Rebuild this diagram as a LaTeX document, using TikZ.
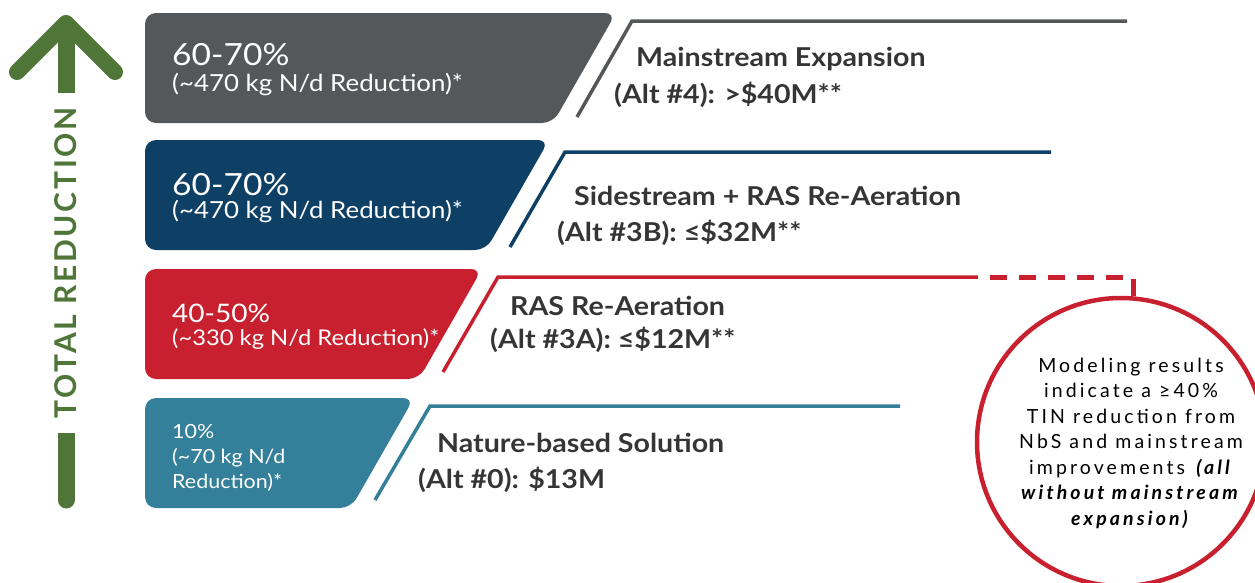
\documentclass[tikz,border=0pt]{standalone}
\usepackage{fontspec}
\setmainfont[FakeStretch=1.1]{Lato}
\newfontfamily\spacedfont[LetterSpace=16]{Lato}
\newfontfamily\axisfont[LetterSpace=9]{Lato}
\definecolor{boxgray}{HTML}{55585B}
\definecolor{boxblue}{HTML}{0E4066}
\definecolor{boxred}{HTML}{C8202F}
\definecolor{boxteal}{HTML}{347F99}
\definecolor{axisgreen}{HTML}{4F7638}
\definecolor{titlegray}{HTML}{353535}
\tikzset{
  band/.style={rounded corners=11pt},
  leader/.style={line width=3.5pt},
  pct/.style={anchor=base west, inner sep=0pt, text=white, font=\fontsize{30.5}{32}\selectfont},
  pctsmall/.style={anchor=base west, inner sep=0pt, text=white, font=\fontsize{25.5}{27}\selectfont},
  sub/.style={anchor=base west, inner sep=0pt, text=white, font=\fontsize{23.5}{25}\selectfont},
  subsmall/.style={anchor=base west, inner sep=0pt, text=white, font=\fontsize{21.6}{23}\selectfont},
  subtiny/.style={anchor=base west, inner sep=0pt, text=white, font=\fontsize{19.5}{21}\selectfont},
  title/.style={anchor=base west, inner sep=0pt, text=titlegray, font=\bfseries\fontsize{26}{28}\selectfont},
}
\begin{document}
\begin{tikzpicture}[x=1pt,y=-1pt]
\useasboundingbox (0,0) rectangle (1255,582);

% vertical axis arrow
\coordinate (axbot) at (66,500);
\coordinate (axtop) at (66,24);
\draw[axisgreen, line width=17pt, line cap=round] (axbot) -- (axtop);
\draw[axisgreen, line width=16pt, line cap=round, line join=round]
  (17,72) -- (66,23) -- (115,72);
\node[rotate=90, fill=white, text=axisgreen, minimum width=340pt, minimum height=28pt,
      inner sep=0pt, font=\axisfont\bfseries\fontsize{30}{32}\selectfont]
  (axis) at (66,263) {TOTAL REDUCTION};

% band 1: mainstream expansion
\fill[boxgray, band] (145,13) -- (616,13) -- (553,123) -- (145,123) -- cycle;
\coordinate (l1a) at (577,117); \coordinate (l1b) at (632,21); \coordinate (l1c) at (1127,21);
\draw[boxgray, leader] (l1a) -- (l1b) -- (l1c);
\node[pct] (p1) at (172,65) {60-70\%};
\node[sub] (s1) at (172,91) {(\textasciitilde470 kg N/d Reduction)*};
\node[title] (t1a) at (636,66) {Mainstream Expansion};
\node[title] (t1b) at (614,103) {(Alt \#4): >\$40M**};

% band 2: sidestream + RAS re-aeration
\fill[boxblue, band] (145,140) -- (549,140) -- (486,250) -- (145,250) -- cycle;
\coordinate (l2a) at (510,247); \coordinate (l2b) at (565,152); \coordinate (l2c) at (1051,152);
\draw[boxblue, leader] (l2a) -- (l2b) -- (l2c);
\node[pct] (p2) at (172,195) {60-70\%};
\node[sub] (s2) at (172,218) {(\textasciitilde470 kg N/d Reduction)*};
\node[title] (t2a) at (574,205) {Sidestream + RAS Re-Aeration};
\node[title] (t2b) at (557,241) {(Alt \#3B): ≤\$32M**};

% band 3: RAS re-aeration
\fill[boxred, band] (145,269) -- (482,269) -- (419,379) -- (145,379) -- cycle;
\coordinate (l3a) at (443,372); \coordinate (l3b) at (498,277); \coordinate (l3c) at (978,277);
\coordinate (l3d) at (990,277); \coordinate (l3e) at (1133,277);
\draw[boxred, leader] (l3a) -- (l3b) -- (l3c);
\node[pctsmall] (p3) at (172,322) {40-50\%};
\node[subsmall] (s3) at (172,345) {(\textasciitilde330 kg N/d Reduction)*};
\node[title] (t3a) at (510,315) {RAS Re-Aeration};
\node[title] (t3b) at (490,348) {(Alt \#3A): ≤\$12M**};

% band 4: nature-based solution
\fill[boxteal, band] (145,398) -- (414,398) -- (351,508) -- (145,508) -- cycle;
\coordinate (l4a) at (375,500); \coordinate (l4b) at (430,406); \coordinate (l4c) at (900,406);
\draw[boxteal, leader] (l4a) -- (l4b) -- (l4c);
\node[subtiny] (p4) at (172,438) {10\%};
\node[subtiny] (s4a) at (172,463) {(\textasciitilde70 kg N/d};
\node[subtiny] (s4b) at (172,488) {Reduction)*};
\node[title] (t4a) at (437,452) {Nature-based Solution};
\node[title] (t4b) at (418,488) {(Alt \#0): \$13M};

% modeling note
\node[circle, draw=boxred, line width=4.5pt, minimum size=288pt, inner sep=0pt] (note) at (1121,442) {};
\draw[boxred, line width=5pt, dash pattern=on 17pt off 12pt] (l3d) -- (l3e) -- (l3e |- note.north);
\node[align=center, inner sep=0pt, text=black, font=\spacedfont\fontsize{19.5}{25.5}\selectfont]
  (notetext) at (1131,443)
  {Modeling results\\ indicate a ≥40\%\\ TIN reduction from\\ NbS and mainstream\\
   improvements \textbf{\itshape(all}\\ \textbf{\itshape without mainstream}\\ \textbf{\itshape expansion)}};
\end{tikzpicture}
\end{document}
